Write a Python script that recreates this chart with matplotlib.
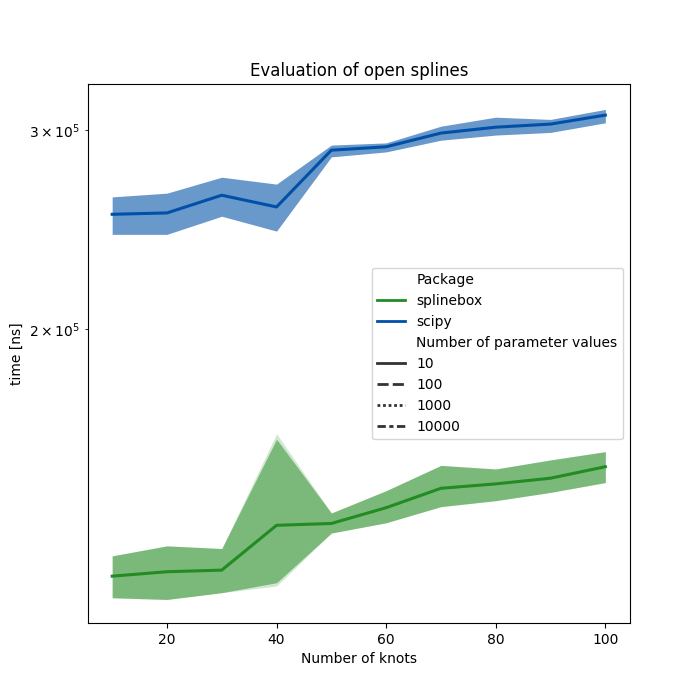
import matplotlib.pyplot as plt
from matplotlib.lines import Line2D

knots = [10, 20, 30, 40, 50, 60, 70, 80, 90, 100]

# splinebox: mean time and confidence band [ns]
splinebox_mean = [121100, 122200, 122600, 134300, 134800, 139200, 144800, 146100, 147800, 151300]
splinebox_low = [115900, 115500, 117100, 119500, 132200, 135000, 139500, 141200, 143600, 146500]
splinebox_high = [126200, 128800, 128100, 160000, 137700, 144100, 151700, 150600, 153400, 156000]
# widest band of the overlapping series (only differs at 40 knots)
splinebox_low_outer = [115900, 115500, 117100, 118700, 132200, 135000, 139500, 141200, 143600, 146500]
splinebox_high_outer = [126200, 128800, 128100, 161800, 137700, 144100, 151700, 150600, 153400, 156000]

# scipy
scipy_mean = [252800, 253500, 262800, 256600, 288000, 290000, 298200, 301800, 303700, 309300]
scipy_low = [242700, 242700, 251800, 244300, 284100, 287000, 293900, 297000, 298600, 304500]
scipy_high = [261900, 263900, 272600, 268800, 291000, 292300, 302400, 308000, 306600, 312900]

param_values = ["10", "100", "1000", "10000"]
green = "forestgreen"
blue = "#0050a8"

fig, ax = plt.subplots(figsize=(7, 7), dpi=100)

ax.fill_between(knots, splinebox_low_outer, splinebox_high_outer, color=green, alpha=0.2, lw=0)
ax.fill_between(knots, splinebox_low, splinebox_high, color=green, alpha=0.49, lw=0)
ax.plot(knots, splinebox_mean, color=green, lw=2.2)

ax.fill_between(knots, scipy_low, scipy_high, color=blue, alpha=0.59, lw=0)
ax.plot(knots, scipy_mean, color=blue, lw=2.2)

ax.set_yscale("log")
ax.set_ylim(110100, 329500)
ax.set_xlabel("Number of knots")
ax.set_ylabel("time [ns]")
ax.set_title("Evaluation of open splines")

# seaborn style dashes
dashes = [(None, None), (4, 1.5), (1, 1), (3, 1.25, 1.5, 1.25)]
handles = [Line2D([], [], linestyle="none"),
           Line2D([], [], color=green, lw=2),
           Line2D([], [], color=blue, lw=2),
           Line2D([], [], linestyle="none")]
labels = ["Package", "splinebox", "scipy", "Number of parameter values"]
for d, p in zip(dashes, param_values):
    h = Line2D([], [], color=".2", lw=2)
    if d[0] is not None:
        h.set_dashes(d)
    handles.append(h)
    labels.append(p)
ax.legend(handles, labels, loc="center right")

plt.savefig("out.png")
